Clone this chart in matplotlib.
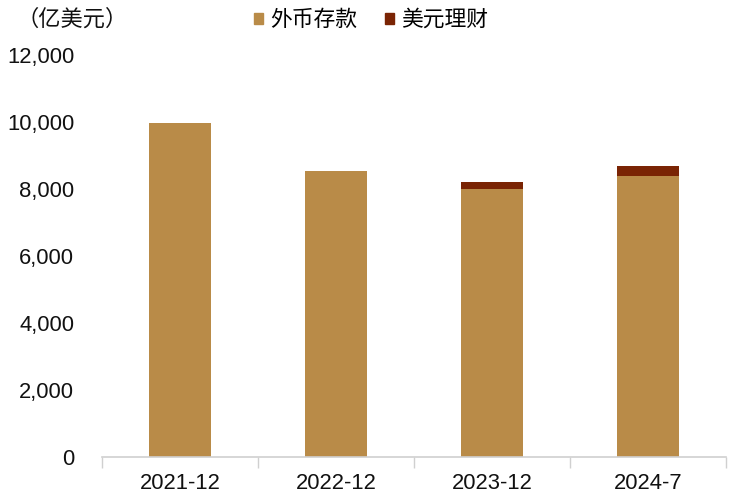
import matplotlib
matplotlib.use("Agg")
import matplotlib.pyplot as plt
import numpy as np
from matplotlib.patches import Patch

plt.rcParams['font.family'] = ['Liberation Sans', 'Noto Sans CJK SC', 'DejaVu Sans']

categories = ['2021-12', '2022-12', '2023-12', '2024-7']
deposits = [9980, 8555, 8010, 8385]      # 外币存款
usd_wealth = [0, 0, 200, 320]            # 美元理财
series_names = ['外币存款', '美元理财']
yticks = [0, 2000, 4000, 6000, 8000, 10000, 12000]

c_dep = '#B98B48'
c_wm = '#7A2404'

fig = plt.figure(figsize=(7.32, 5.0), dpi=100)
ax = fig.add_axes([102/732, 1-456.7/500, (726-102)/732, (456.7-55.3)/500])

x = np.arange(len(categories))
ax.bar(x, deposits, width=0.4, color=c_dep, zorder=2)
ax.bar(x, usd_wealth, width=0.4, bottom=deposits, color=c_wm, zorder=2)

ax.set_xlim(-0.5, len(categories) - 0.5)
ax.set_ylim(0, 12000)
ax.set_yticks(yticks)
ax.set_yticklabels([f'{v:,}' for v in yticks], fontsize=15.8, color='#111111')
ax.set_xticks(x)
ax.set_xticklabels(categories, fontsize=15.8, color='#111111')
ax.tick_params(axis='y', length=0, pad=20)
ax.tick_params(axis='x', length=0, pad=12)
# boundary tick marks
ax.set_xticks(np.arange(-0.5, len(categories), 1.0), minor=True)
ax.tick_params(axis='x', which='minor', length=8, color='#d0d0d0', width=1)

for s in ['top', 'right', 'left']:
    ax.spines[s].set_visible(False)
ax.spines['bottom'].set_color('#d0d0d0')
ax.spines['bottom'].set_linewidth(1.2)

fig.text(16/732, 1-19/500, '（亿美元）', fontsize=16, ha='left', va='center',
         family=['Noto Sans CJK SC', 'DejaVu Sans'], color='#111111')

handles = [Patch(color=c_dep), Patch(color=c_wm)]
leg = fig.legend(handles, series_names, loc='center', bbox_to_anchor=(371/732, 1-20/500),
                 ncol=2, frameon=False, handlelength=0.42, handleheight=0.42,
                 handletextpad=0.3, columnspacing=1.3,
                 prop={'family': ['Noto Sans CJK SC', 'DejaVu Sans'], 'size': 15.7})

fig.savefig('out.png', dpi=100)
